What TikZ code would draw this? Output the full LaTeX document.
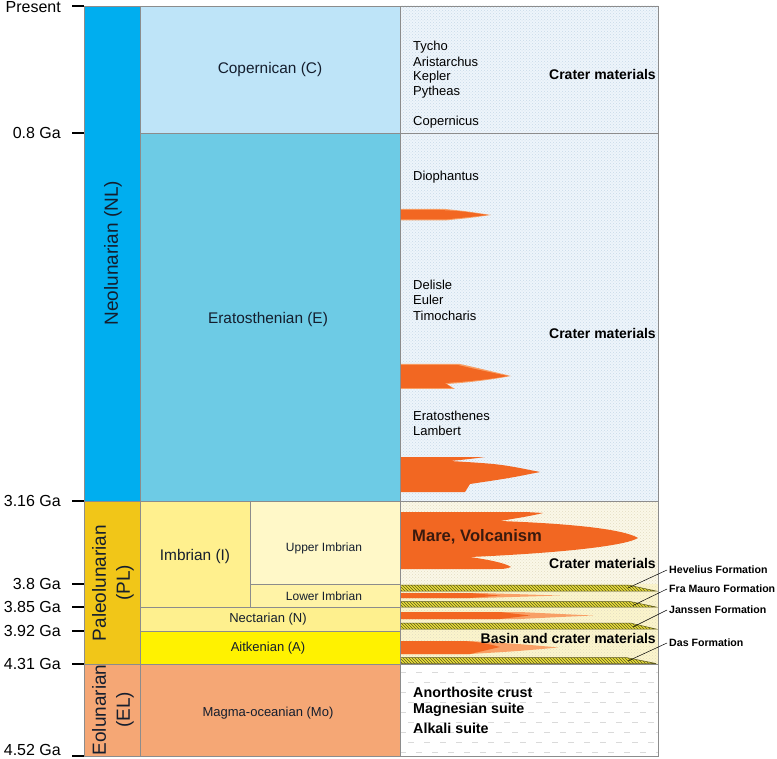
\documentclass[tikz,border=0pt]{standalone}
\usepackage{fontspec}
\setmainfont{Liberation Sans}
\usetikzlibrary{patterns}
\definecolor{cNL}{HTML}{00AEEF}
\definecolor{cCop}{HTML}{BEE4F8}
\definecolor{cEra}{HTML}{6DCBE5}
\definecolor{cPL}{HTML}{F1C618}
\definecolor{cImb}{HTML}{FFF08E}
\definecolor{cUImb}{HTML}{FFF8C8}
\definecolor{cLImb}{HTML}{FFF3A6}
\definecolor{cNec}{HTML}{FEF08E}
\definecolor{cAit}{HTML}{FFF200}
\definecolor{cEL}{HTML}{F5A775}
\definecolor{cTop}{HTML}{EEF5FB}
\definecolor{cTopDot}{HTML}{C8DAE8}
\definecolor{cMid}{HTML}{FBF8E8}
\definecolor{cMidDot}{HTML}{E2DDC2}
\definecolor{cBand}{HTML}{FCF5CC}
\definecolor{cDash}{HTML}{DADADA}
\definecolor{cGrid}{HTML}{8C8C8C}
\definecolor{cTxt}{HTML}{141E2E}
\definecolor{cOr}{HTML}{F26722}
\definecolor{cOrL}{HTML}{F8A066}
\definecolor{cForm}{HTML}{EADF3C}
\definecolor{cFormLn}{HTML}{5E5A1E}
\definecolor{cMare}{HTML}{3A1A0E}
\begin{document}
\begin{tikzpicture}[x=1pt,y=-1pt,
  grid/.style={draw=cGrid,line width=0.8pt},
  agelab/.style={anchor=east,font=\fontsize{16}{18}\selectfont,text=black,inner sep=0pt},
  tickln/.style={line width=2.4pt,black},
  era/.style={rotate=90,align=center,font=\fontsize{19}{24}\selectfont,text=cTxt},
  per/.style={font=\fontsize{15.4}{18}\selectfont,text=cTxt},
  persm/.style={font=\fontsize{13}{16}\selectfont,text=cTxt},
  sub/.style={font=\fontsize{12}{14}\selectfont,text=cTxt},
  crater/.style={anchor=west,font=\fontsize{13}{15}\selectfont,text=black,inner sep=0pt},
  mat/.style={anchor=east,font=\bfseries\fontsize{14}{16}\selectfont,text=black,inner sep=0pt},
  rock/.style={anchor=west,font=\bfseries\fontsize{14.3}{16}\selectfont,text=black,inner sep=0pt},
  formlab/.style={anchor=west,font=\bfseries\fontsize{10.6}{12}\selectfont,text=black,inner sep=0pt},
  leader/.style={draw=black,line width=0.5pt},
  orange/.style={fill=cOr},
  orangel/.style={fill=cOrL},
  formband/.style={preaction={fill=cForm},pattern=north west lines,pattern color=cFormLn,draw=cFormLn,line width=0.5pt}
]
\useasboundingbox (0,0) rectangle (777,759);
\fill[white] (0,0) rectangle (777,759);

% ---------- right column backgrounds ----------
\fill[cTop] (400,6) rectangle (658,501);
\fill[pattern=crosshatch dots,pattern color=cTopDot] (400,6) rectangle (658,501);
\fill[cMid] (400,501) rectangle (658,584);
\fill[pattern=crosshatch dots,pattern color=cMidDot] (400,501) rectangle (658,584);
\fill[cBand] (400,584) rectangle (658,664);
\fill[pattern=crosshatch dots,pattern color=cMidDot] (400,584) rectangle (658,664);
\foreach \yy in {672,692,712,732,752} \draw[cDash,line width=0.7pt,dash pattern=on 6pt off 10pt] (400,\yy) -- (658,\yy);
\foreach \yy in {682,702,722,742} \draw[cDash,line width=0.7pt,dash pattern=on 6pt off 10pt,dash phase=8pt] (400,\yy) -- (658,\yy);

% ---------- orange tongues ----------
\path[orangel] (400,209) -- (445,209) .. controls (465,211) .. (491,215) .. controls (470,218) .. (445,220.5) -- (400,220.5) -- cycle;
\path[orange] (400,210) -- (440,210) .. controls (460,211) .. (488,215) .. controls (470,217) .. (445,219.5) -- (400,219.5) -- cycle;
\path[orangel] (400,364) -- (460,364) .. controls (478,368) .. (511,376) .. controls (485,381) and (462,383) .. (447,384) -- (455,389) -- (400,389) -- cycle;
\path[orange] (400,365) -- (458,365) .. controls (475,369) .. (508,376) .. controls (485,380) and (462,382) .. (445,383) -- (452,388) -- (400,388) -- cycle;
\path[orange] (400,457) -- (485,457) .. controls (470,459) .. (450,461) .. controls (500,464) .. (540,472) .. controls (510,478) .. (470,484) .. controls (468,488) .. (465,492) -- (400,492) -- cycle;
\path[orange] (400,512) -- (525,512) .. controls (535,512.5) .. (543,513) .. controls (530,516) .. (500,521) .. controls (580,524) and (625,530) .. (638,538) .. controls (625,546) and (560,553) .. (470,557) .. controls (490,560) and (505,563) .. (511,567) .. controls (505,569) .. (490,569) -- (400,569) -- cycle;
% thin tongues in basin area
\path[orangel] (400,593) -- (480,593) .. controls (520,594) .. (560,595.5) .. controls (520,597) .. (480,598) -- (400,598) -- cycle;
\path[orange] (400,593) -- (470,593) .. controls (485,594) .. (500,595.5) .. controls (485,597) .. (470,598) -- (400,598) -- cycle;
\path[orangel] (400,612) -- (520,612) .. controls (560,614) .. (593,615.5) .. controls (560,617) .. (520,619) -- (400,619) -- cycle;
\path[orange] (400,612) -- (500,612) .. controls (515,614) .. (530,615.5) .. controls (515,617) .. (500,619) -- (400,619) -- cycle;
\path[orangel] (400,641) -- (470,641) .. controls (520,644) .. (558,647.5) .. controls (520,651) .. (470,654) -- (400,654) -- cycle;
\path[orange] (400,641) -- (465,641) .. controls (485,643) .. (500,647) .. controls (485,651) .. (470,654) -- (400,654) -- cycle;

% ---------- formation bands ----------
\path[formband] (400,585) -- (628,585) -- (656,591) -- (400,591) -- cycle;
\path[formband] (400,601.5) -- (630,601.5) -- (656,607) -- (400,607) -- cycle;
\path[formband] (400,623) -- (630,623) -- (656,629) -- (400,629) -- cycle;
\path[formband] (400,657.5) -- (626,657.5) -- (656,663.5) -- (400,663.5) -- cycle;

% ---------- left blocks ----------
\filldraw[grid,fill=cNL] (84,6) rectangle (140,501);
\filldraw[grid,fill=cPL] (84,501) rectangle (140,664);
\filldraw[grid,fill=cEL] (84,664) rectangle (140,756);
\filldraw[grid,fill=cCop] (140,6) rectangle (400,133);
\filldraw[grid,fill=cEra] (140,133) rectangle (400,501);
\filldraw[grid,fill=cImb] (140,501) rectangle (250,607);
\filldraw[grid,fill=cUImb] (250,501) rectangle (400,584);
\filldraw[grid,fill=cLImb] (250,584) rectangle (400,607);
\filldraw[grid,fill=cNec] (140,607) rectangle (400,631);
\filldraw[grid,fill=cAit] (140,631) rectangle (400,664);
\filldraw[grid,fill=cEL] (140,664) rectangle (400,756);
% right column frame
\draw[grid] (400,6) rectangle (658,756);
\draw[grid] (400,133) -- (658,133);
\draw[grid] (400,501) -- (658,501);
\draw[grid] (400,664) -- (658,664);

% ---------- age axis ----------
\foreach \yy/\ly/\nm/\lab in {6/7/p/Present,133/133/a/0.8 Ga,501/501/b/3.16 Ga,584/584/c/3.8 Ga,607/607/d/3.85 Ga,631/631/e/3.92 Ga,664/664/f/4.31 Ga,756/750/g/4.52 Ga}{
  \draw[tickln] (72,\yy) -- (84,\yy);
  \node[agelab] (age\nm) at (61,\ly) {\lab};
}

% ---------- block labels ----------
\node[era] (nl) at (113,253) {Neolunarian (NL)};
\node[era] (pl) at (113,583) {Paleolunarian\\(PL)};
\node[era] (el) at (113,710) {Eolunarian\\(EL)};
\node[per] (cop) at (270,70) {Copernican (C)};
\node[per] (eratos) at (268,320) {Eratosthenian (E)};
\node[per] (imb) at (195,557) {Imbrian (I)};
\node[sub] (uimb) at (324,548) {Upper Imbrian};
\node[sub] (limb) at (324,596) {Lower Imbrian};
\node[persm] (nec) at (268,619) {Nectarian (N)};
\node[persm] (ait) at (268,648) {Aitkenian (A)};
\node[persm] (mo) at (268,713) {Magma-oceanian (Mo)};

% ---------- right column texts ----------
\node[crater] (tycho) at (413,47) {Tycho};
\node[crater] (arist) at (413,62) {Aristarchus};
\node[crater] (kepler) at (413,77) {Kepler};
\node[crater] (pyth) at (413,92) {Pytheas};
\node[crater] (copc) at (413,122) {Copernicus};
\node[mat] (cm1) at (656,74) {Crater materials};
\node[crater] (dioph) at (413,177) {Diophantus};
\node[crater] (delisle) at (413,285) {Delisle};
\node[crater] (euler) at (413,300) {Euler};
\node[crater] (timo) at (413,316) {Timocharis};
\node[mat] (cm2) at (656,333) {Crater materials};
\node[crater] (erat) at (413,416) {Eratosthenes};
\node[crater] (lamb) at (413,431) {Lambert};
\node[anchor=west,font=\bfseries\fontsize{16.6}{18}\selectfont,text=cMare,inner sep=0pt] (mare) at (412,537) {Mare, Volcanism};
\node[mat] (cm3) at (656,563) {Crater materials};
\node[mat] (basin) at (656,638) {Basin and crater materials};
\node[rock] (anor) at (413,692) {Anorthosite crust};
\node[rock] (magn) at (413,710) {Magnesian suite};
\node[rock] (alk) at (413,728) {Alkali suite};

% ---------- formation labels ----------
\node[formlab] (hev) at (669,570) {Hevelius Formation};
\node[formlab] (fra) at (669,589) {Fra Mauro Formation};
\node[formlab] (jan) at (669,610) {Janssen Formation};
\node[formlab] (das) at (669,643) {Das Formation};
\coordinate (hevend) at (628,588);
\coordinate (fraend) at (633,605.5);
\coordinate (janend) at (633,627);
\coordinate (dasend) at (628,661);
\draw[leader] ([xshift=-2pt]hev.west) -- (hevend);
\draw[leader] ([xshift=-2pt]fra.west) -- (fraend);
\draw[leader] ([xshift=-2pt]jan.west) -- (janend);
\draw[leader] ([xshift=-2pt]das.west) -- (dasend);
\end{tikzpicture}
\end{document}
